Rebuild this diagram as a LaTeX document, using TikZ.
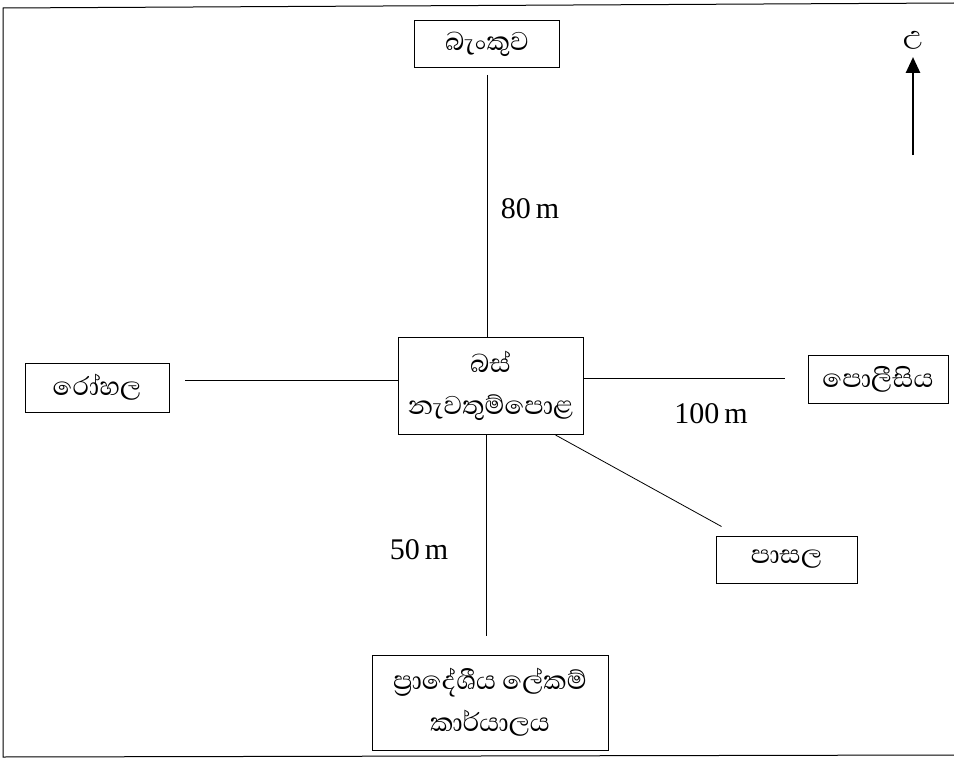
\documentclass[tikz,border=0pt]{standalone}
\usepackage{fontspec}
\setmainfont{Liberation Serif}
\newfontfamily\sinhalafont[Script=Sinhala]{Abhaya Libre}
\usetikzlibrary{arrows.meta}
\begin{document}
\begin{tikzpicture}[x=1pt,y=-1pt,
  place/.style={draw, line width=1pt, inner sep=0pt, align=center,
    font=\sinhalafont\fontsize{33}{42}\selectfont},
  road/.style={line width=0.8pt},
  dist/.style={font=\fontsize{30}{30}\selectfont, inner sep=0pt}]
\useasboundingbox (0,0) rectangle (954,760);
\draw[line width=1pt] (954,3) -- (3,8) -- (3,757) -- (954,755);

\node[place, minimum width=145pt, minimum height=47pt] (bank) at (487,44) {බැංකුව};
\node[place, minimum width=185pt, minimum height=97pt] (bus) at (490.5,386) {බස්\\නැවතුම්පොළ};
\node[place, minimum width=144pt, minimum height=49pt] (hosp) at (97,387.5) {රෝහල};
\node[place, minimum width=140pt, minimum height=48pt] (police) at (878,379) {පොලීසිය};
\node[place, minimum width=141pt, minimum height=47pt] (school) at (786.5,559.5) {පාසල};
\node[place, minimum width=236pt, minimum height=95pt] (sec) at (490,702.5) {ප්‍රාදේශීය ලේකම්\\කාර්යාලය};

\coordinate (hl) at (185,380);
\coordinate (pr) at (785,378);
\coordinate (se) at (486,636);

\draw[road] ([yshift=-7pt]bank.south) -- (bank.south |- bus.north);
\draw[road] (hl) -- (hl -| bus.west);
\draw[road] (pr -| bus.east) -- (pr);
\draw[road] ([xshift=-28pt]bus.south east) -- ([shift={(6,-9)}]school.north west);
\draw[road] (se |- bus.south) -- (se);

\node[dist] (d80) at (530,209) {80\,m};
\node[dist] (d100) at (711,414) {100\,m};
\node[dist] (d50) at (419,550) {50\,m};

\coordinate (ntail) at (913,155);
\node[font=\sinhalafont\fontsize{32}{32}\selectfont, inner sep=0pt] (north) at (913,40) {උ};
\draw[line width=2.6pt, -{Triangle[length=16pt,width=14pt]}] (ntail) -- (913,57);
\end{tikzpicture}
\end{document}
